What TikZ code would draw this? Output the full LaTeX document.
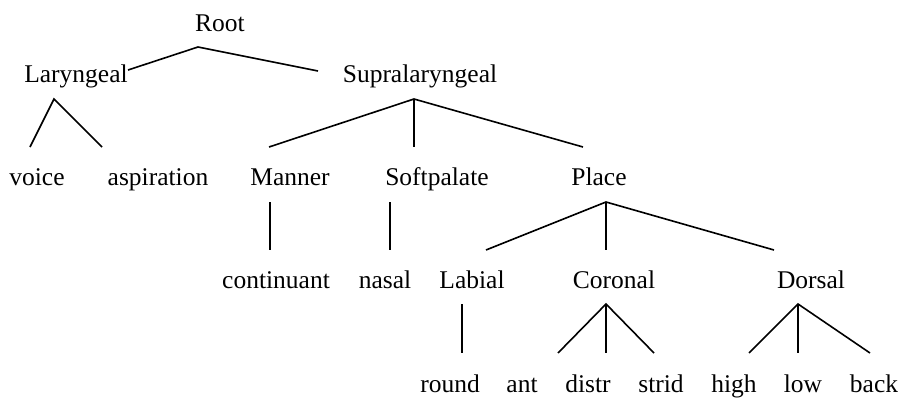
\documentclass[tikz,border=0pt]{standalone}
\usepackage{fontspec}
\setmainfont{Liberation Serif}
\begin{document}
\begin{tikzpicture}[x=1pt,y=-1pt,
  lbl/.style={anchor=base,inner sep=0pt,font=\fontsize{25.5}{30}\selectfont},
  branch/.style={draw=black,line width=1.6pt,line join=miter}]
\useasboundingbox (0,0) rectangle (904,399);
% labels
\node[lbl] (root) at (220,31.7) {Root};
\node[lbl] (lar) at (76,82) {Laryngeal};
\node[lbl] (sup) at (420,82) {Supralaryngeal};
\node[lbl] (voice) at (37,185) {voice};
\node[lbl] (asp) at (158,185) {aspiration};
\node[lbl] (man) at (290,185) {Manner};
\node[lbl] (soft) at (437,185) {Softpalate};
\node[lbl] (place) at (599,185) {Place};
\node[lbl] (cont) at (276,288) {continuant};
\node[lbl] (nas) at (385,288) {nasal};
\node[lbl] (lab) at (472,288) {Labial};
\node[lbl] (cor) at (614,288) {Coronal};
\node[lbl] (dor) at (811,288) {Dorsal};
\node[lbl] (round) at (450,392) {round};
\node[lbl] (ant) at (522,392) {ant};
\node[lbl] (distr) at (588,392) {distr};
\node[lbl] (strid) at (661,392) {strid};
\node[lbl] (high) at (734,392) {high};
\node[lbl] (low) at (803,392) {low};
\node[lbl] (back) at (874,392) {back};
% connector end points
\coordinate (rootA) at (198,47);
\coordinate (larT) at (128,70);
\coordinate (supT) at (318,71);
\coordinate (larA) at (54,99);
\coordinate (voiceT) at (30,147);
\coordinate (aspT) at (102,147);
\coordinate (supA) at (414,99);
\coordinate (manT) at (269,147);
\coordinate (softT) at (414,147);
\coordinate (placeT) at (583,147);
\coordinate (manA) at (270,202);
\coordinate (contT) at (270,250);
\coordinate (softA) at (390,202);
\coordinate (nasT) at (390,250);
\coordinate (placeA) at (606,202);
\coordinate (labT) at (486,250);
\coordinate (corT) at (606,250);
\coordinate (dorT) at (774,250);
\coordinate (labA) at (462,304);
\coordinate (roundT) at (462,353);
\coordinate (corA) at (606,304);
\coordinate (antT) at (558,353);
\coordinate (distrT) at (606,353);
\coordinate (stridT) at (654,353);
\coordinate (dorA) at (798,304);
\coordinate (highT) at (749,353);
\coordinate (lowT) at (798,353);
\coordinate (backT) at (870,353);
% connectors
\draw[branch] (larT) -- (rootA) -- (supT);
\draw[branch] (voiceT) -- (larA) -- (aspT);
\draw[branch] (manT) -- (supA) -- (placeT);
\draw[branch] (supA) -- (softT);
\draw[branch] (manA) -- (contT);
\draw[branch] (softA) -- (nasT);
\draw[branch] (labT) -- (placeA) -- (dorT);
\draw[branch] (placeA) -- (corT);
\draw[branch] (labA) -- (roundT);
\draw[branch] (antT) -- (corA) -- (stridT);
\draw[branch] (corA) -- (distrT);
\draw[branch] (highT) -- (dorA) -- (backT);
\draw[branch] (dorA) -- (lowT);
\end{tikzpicture}
\end{document}
